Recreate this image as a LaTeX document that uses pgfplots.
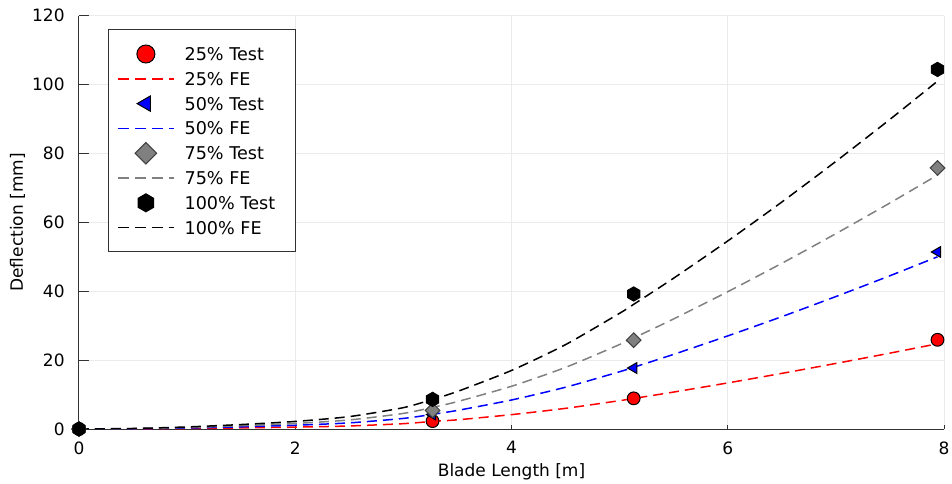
\documentclass[border=0pt]{standalone}
\usepackage{fontspec}
\setmainfont{DejaVu Sans}
\usepackage{pgfplots}
\pgfplotsset{compat=1.18}
\usetikzlibrary{plotmarks}
\pgfdeclareplotmark{hexagon*}{%
  \pgfpathmoveto{\pgfqpoint{0pt}{\pgfplotmarksize}}%
  \pgfpathlineto{\pgfqpoint{0.866\pgfplotmarksize}{0.5\pgfplotmarksize}}%
  \pgfpathlineto{\pgfqpoint{0.866\pgfplotmarksize}{-0.5\pgfplotmarksize}}%
  \pgfpathlineto{\pgfqpoint{0pt}{-\pgfplotmarksize}}%
  \pgfpathlineto{\pgfqpoint{-0.866\pgfplotmarksize}{-0.5\pgfplotmarksize}}%
  \pgfpathlineto{\pgfqpoint{-0.866\pgfplotmarksize}{0.5\pgfplotmarksize}}%
  \pgfpathclose
  \pgfusepathqfillstroke}
\definecolor{gridc}{RGB}{235,235,235}
\definecolor{axc}{RGB}{50,50,50}
\newcommand{\lfont}{\fontsize{8.8}{10}\selectfont}
\newcommand{\tfont}{\fontsize{8.5}{10}\selectfont}
\newcommand{\legtxt}[1]{\makebox[51pt][l]{#1}}
\pgfplotsset{
  markleg/.style={legend image code/.code={\draw[##1, mark size=#1] plot[only marks] coordinates {(14pt,0pt)};}},
  lineleg/.style={legend image code/.code={\draw[##1, #1, solid, dash pattern=on 5.5pt off 3pt, line width=0.7pt] (0pt,0pt) -- (28pt,0pt);}},
  fe/.style={#1, dash pattern=on 5pt off 3pt, line width=0.75pt, smooth, tension=0.4, lineleg=#1},
}
\begin{document}
\begin{tikzpicture}
\begin{axis}[
  scale only axis,
  width=432.5pt, height=206.65pt,
  xmin=0, xmax=8, ymin=0, ymax=120,
  xtick={0,2,4,6,8}, ytick={0,20,40,60,80,100,120},
  axis x line*=bottom, axis y line*=left,
  axis line style={axc, line width=0.5pt},
  tick style={axc, line width=0.5pt},
  tick align=inside,
  x tick style={/pgfplots/major tick length=2pt},
  y tick style={/pgfplots/major tick length=5pt},
  grid=major,
  major grid style={gridc, line width=0.5pt},
  clip=false,
  /pgf/number format/assume math mode=true,
  ticklabel style={font=\tfont, inner sep=0pt},
  xticklabel style={anchor=north, yshift=-6pt},
  yticklabel style={anchor=east, xshift=-7pt},
  xlabel={Blade Length [m]},
  ylabel={Deflection [mm]},
  xlabel style={font=\tfont, at={(axis description cs:0.5,0)}, anchor=base, inner sep=0pt, yshift=-23.8pt},
  ylabel style={font=\tfont, at={(axis description cs:0,0.5)}, anchor=base, inner sep=0pt, yshift=28pt},
  legend style={at={(axis description cs:0,1)}, anchor=north west, xshift=14.35pt, yshift=-6.8pt,
    draw=axc, line width=0.5pt, font=\lfont, inner xsep=4.5pt, inner ysep=5.9pt, row sep=0pt,
    nodes={inner sep=0pt, text height=9.4pt, text depth=3pt}, column sep=5pt},
  legend cell align=left,
]
\addplot[only marks, mark=*, mark size=3.2pt, mark options={fill=red, draw=black, line width=0.5pt}, markleg=4.5pt]
  coordinates {(0,0) (3.27,2.3) (5.13,8.9) (7.94,25.9)};
\addlegendentry{\legtxt{25\% Test}}
\addplot[fe=red]
  coordinates {(0,0) (0.5,0.04) (1,0.15) (1.5,0.32) (2,0.54) (2.5,0.88) (3,1.55) (3.27,2.2) (3.5,2.67) (4,4.17) (4.5,6.0) (5,8.23) (5.13,8.87) (5.5,10.73) (6,13.38) (6.5,16.15) (7,19.04) (7.5,22.03) (7.94,24.75)};
\addlegendentry{\legtxt{25\% FE}}
\addplot[only marks, mark=triangle*, mark size=3.1pt, mark options={rotate=90, fill=blue, draw=black, line width=0.5pt}, markleg=4.4pt]
  coordinates {(0,0) (3.27,4.2) (5.13,17.7) (7.94,51.4)};
\addlegendentry{\legtxt{50\% Test}}
\addplot[fe=blue]
  coordinates {(0,0) (0.5,0.07) (1,0.3) (1.5,0.64) (2,1.09) (2.5,1.78) (3,3.07) (3.27,4.26) (3.5,5.4) (4,8.42) (4.5,12.13) (5,16.63) (5.13,17.92) (5.5,21.68) (6,27.03) (6.5,32.62) (7,38.46) (7.5,44.5) (7.94,50.0)};
\addlegendentry{\legtxt{50\% FE}}
\addplot[only marks, mark=square*, mark size=2.6pt, mark options={rotate=45, fill=gray, draw=black!75, line width=0.5pt}, markleg=3.8pt]
  coordinates {(0,0) (3.27,5.4) (5.13,25.8) (7.94,75.8)};
\addlegendentry{\legtxt{75\% Test}}
\addplot[fe=gray]
  coordinates {(0,0) (0.5,0.11) (1,0.44) (1.5,0.95) (2,1.61) (2.5,2.63) (3,4.53) (3.27,6.28) (3.5,7.96) (4,12.41) (4.5,17.89) (5,24.53) (5.13,26.43) (5.5,31.97) (6,39.86) (6.5,48.11) (7,56.72) (7.5,65.63) (7.94,73.73)};
\addlegendentry{\legtxt{75\% FE}}
\addplot[only marks, mark=hexagon*, mark size=3.55pt, mark options={fill=black, draw=black, line width=0.5pt}, markleg=4.5pt]
  coordinates {(0,0) (3.27,8.6) (5.13,39.2) (7.94,104.4)};
\addlegendentry{\legtxt{100\% Test}}
\addplot[fe=black]
  coordinates {(0,0) (0.5,0.15) (1,0.6) (1.5,1.3) (2,2.2) (2.5,3.6) (3,6.2) (3.27,8.6) (3.5,10.9) (4,17.0) (4.5,24.5) (5,33.6) (5.13,36.2) (5.5,43.8) (6,54.6) (6.5,65.9) (7,77.7) (7.5,89.9) (7.94,101)};
\addlegendentry{\legtxt{100\% FE}}
\end{axis}
\pgfresetboundingbox
\path ([xshift=-39.5pt,yshift=-27pt]current axis.south west) rectangle ([xshift=4pt,yshift=7.85pt]current axis.north east);
\end{tikzpicture}
\end{document}
